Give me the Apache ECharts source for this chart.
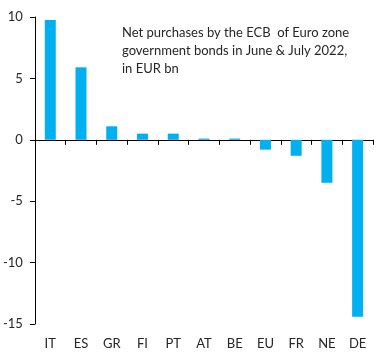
<!DOCTYPE html>
<html><head><meta charset="utf-8">
<script src="https://cdn.jsdelivr.net/npm/echarts@6/dist/echarts.min.js"></script>
<style>html,body{margin:0;padding:0;background:#fff}#c{width:385px;height:360px}</style>
</head><body><div id="c"></div>
<script>
var categories = ['IT','ES','GR','FI','PT','AT','BE','EU','FR','NE','DE'];
var values = [9.75, 5.9, 1.1, 0.5, 0.5, 0.1, 0.1, -0.8, -1.3, -3.5, -14.4];
var titleLines = ['Net purchases by the ECB  of Euro zone', 'government bonds in June & July 2022,', 'in EUR bn'];
var yTicks = {min: -15, max: 10, interval: 5};

var font = 'Lato, "Open Sans", sans-serif';
var chart = echarts.init(document.getElementById('c'), null, {renderer: 'canvas'});
chart.setOption({
  animation: false,
  backgroundColor: '#fff',
  title: {
    text: titleLines.join('\n'),
    left: 122, top: 24, padding: 0,
    textStyle: {fontFamily: font, fontSize: 13, fontWeight: 'normal', color: '#262626', lineHeight: 18}
  },
  grid: {left: 34, right: 12, top: 17, bottom: 36, containLabel: false},
  xAxis: [{
    type: 'category', data: categories, boundaryGap: true,
    axisLine: {onZero: true, lineStyle: {color: '#000', width: 1}},
    axisTick: {show: true, length: 5, inside: false, alignWithLabel: false, lineStyle: {color: '#000'}},
    axisLabel: {show: false}
  }, {
    type: 'category', data: categories, position: 'bottom', boundaryGap: true,
    axisLine: {show: false, onZero: false}, axisTick: {show: false},
    axisLabel: {show: true, margin: 13, fontFamily: font, fontSize: 13, color: '#262626'}
  }],
  yAxis: {
    type: 'value', min: yTicks.min, max: yTicks.max, interval: yTicks.interval,
    axisLine: {show: true, lineStyle: {color: '#000'}},
    axisTick: {show: true, length: 5, lineStyle: {color: '#000'}},
    splitLine: {show: false},
    axisLabel: {margin: 12, fontFamily: font, fontSize: 13, color: '#262626'}
  },
  series: [{
    type: 'bar', data: values, xAxisIndex: 0, barWidth: 11,
    itemStyle: {color: '#00B0F0'}
  }]
});
</script></body></html>
